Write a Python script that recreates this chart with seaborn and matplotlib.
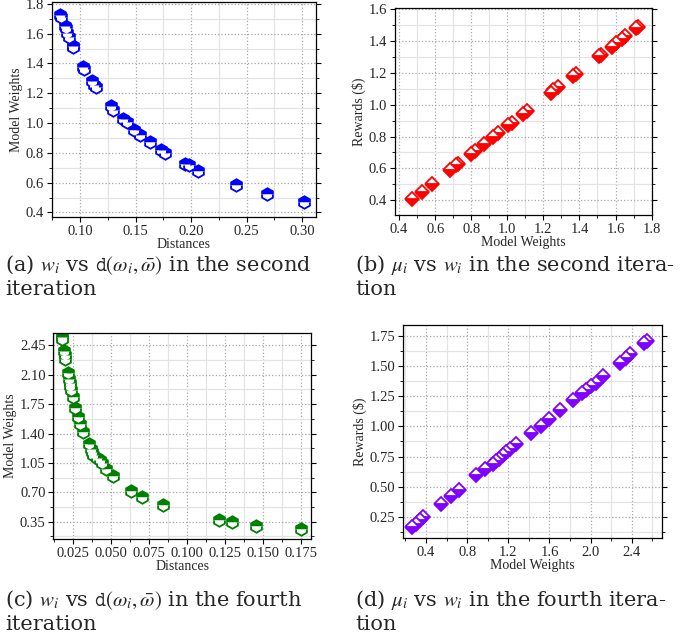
import matplotlib
matplotlib.use("Agg")
import matplotlib.pyplot as plt
import seaborn as sns
import pandas as pd
from matplotlib.ticker import MultipleLocator, AutoMinorLocator, FormatStrFormatter

# second iteration
weights_2 = [1.726, 1.715, 1.652, 1.637, 1.603, 1.58, 1.518, 1.51, 1.379, 1.364,
             1.283, 1.256, 1.24, 1.111, 1.089, 1.026, 1.004, 0.95, 0.921, 0.872,
             0.82, 0.798, 0.726, 0.715, 0.681, 0.585, 0.525, 0.469]
distances_2 = [0.0821, 0.0826, 0.0866, 0.0872, 0.0887, 0.0902, 0.0935, 0.0941, 0.103, 0.104,
               0.1107, 0.1125, 0.1143, 0.128, 0.130, 0.139, 0.142, 0.149, 0.154, 0.163,
               0.173, 0.177, 0.195, 0.198, 0.2065, 0.2405, 0.268, 0.302]
rewards_2 = [1.49, 1.48, 1.43, 1.415, 1.385, 1.365, 1.31, 1.305, 1.19, 1.18,
             1.11, 1.09, 1.075, 0.96, 0.94, 0.885, 0.87, 0.82, 0.795, 0.755,
             0.71, 0.69, 0.63, 0.62, 0.59, 0.505, 0.455, 0.405]

# fourth iteration
weights_4 = [2.55, 2.52, 2.38, 2.34, 2.285, 2.12, 2.05, 2.00, 1.96, 1.92,
             1.83, 1.70, 1.60, 1.515, 1.42, 1.275, 1.22, 1.18, 1.15, 1.11,
             1.08, 1.05, 0.975, 0.89, 0.72, 0.645, 0.545, 0.37, 0.345, 0.305, 0.265]
distances_4 = [0.0174, 0.0178, 0.0189, 0.0193, 0.0197, 0.0213, 0.0222, 0.0227, 0.0230, 0.0235,
               0.0246, 0.0263, 0.0283, 0.0296, 0.0316, 0.0351, 0.0365, 0.0373, 0.0382, 0.0408,
               0.0426, 0.0437, 0.0465, 0.051, 0.0628, 0.0703, 0.0843, 0.121, 0.1297, 0.1454, 0.175]
rewards_4 = [1.708, 1.69, 1.598, 1.57, 1.526, 1.415, 1.36, 1.332, 1.305, 1.277,
             1.222, 1.139, 1.062, 1.004, 0.946, 0.852, 0.816, 0.789, 0.761, 0.733,
             0.714, 0.686, 0.645, 0.595, 0.476, 0.421, 0.36, 0.25, 0.226, 0.193, 0.165]

captions = [
    r"(a) $w_i$ vs $\mathtt{d}(\omega_i, \bar{\omega})$ in the second" + "\niteration",
    r"(b) $\mu_i$ vs $w_i$ in the second itera-" + "\ntion",
    r"(c) $w_i$ vs $\mathtt{d}(\omega_i, \bar{\omega})$ in the fourth" + "\niteration",
    r"(d) $\mu_i$ vs $w_i$ in the fourth itera-" + "\ntion",
]

sns.set_theme(style="ticks")
plt.rcParams["font.family"] = ["Liberation Serif", "DejaVu Serif"]
plt.rcParams["mathtext.fontset"] = "stix"

df2 = pd.DataFrame({"w": weights_2, "d": distances_2, "r": rewards_2})
df4 = pd.DataFrame({"w": weights_4, "d": distances_4, "r": rewards_4})

fig = plt.figure(figsize=(6.83, 6.35), dpi=100)

panels = [
    # rect, data, x, y, color, marker, fill, xlabel, ylabel, xlim, ylim, xmaj, ymaj, xfmt, yfmt
    ([0.0757, 0.658, 0.387, 0.339], df2, "d", "w", "#0000ff", "h", "top",
     "Distances", "Model Weights", (0.0745, 0.3126), (0.368, 1.813), 0.05, 0.2, "%.2f", "%.1f"),
    ([0.578, 0.661, 0.376, 0.326], df2, "w", "r", "#ff0000", "D", "bottom",
     "Model Weights", "Rewards ($)", (0.376, 1.8), (0.306, 1.605), 0.2, 0.2, "%.1f", "%.1f"),
    ([0.078, 0.151, 0.378, 0.325], df4, "d", "w", "#008000", "h", "top",
     "Distances", "Model Weights", (0.0118, 0.182), (0.143, 2.60), 0.025, 0.35, "%.3f", "%.2f"),
    ([0.590, 0.152, 0.379, 0.336], df4, "w", "r", "#8000ff", "D", "bottom",
     "Model Weights", "Rewards ($)", (0.176, 2.693), (0.071, 1.839), 0.4, 0.25, "%.1f", "%.2f"),
]

for rect, df, xc, yc, col, mk, fs, xl, yl, xlim, ylim, xm, ym, xf, yf in panels:
    ax = fig.add_axes(rect)
    sns.lineplot(data=df, x=xc, y=yc, ax=ax, estimator=None, sort=False,
                 linestyle="", marker=mk, markersize=9 if mk == "h" else 7.5,
                 fillstyle=fs, color=col, markerfacecoloralt="white",
                 markeredgecolor=col, markeredgewidth=1.3)
    ax.set_xlim(*xlim)
    ax.set_ylim(*ylim)
    ax.xaxis.set_major_locator(MultipleLocator(xm))
    ax.yaxis.set_major_locator(MultipleLocator(ym))
    ax.xaxis.set_minor_locator(AutoMinorLocator(2))
    ax.yaxis.set_minor_locator(AutoMinorLocator(2))
    ax.xaxis.set_major_formatter(FormatStrFormatter(xf))
    ax.yaxis.set_major_formatter(FormatStrFormatter(yf))
    ax.grid(True, which="major", color="#a8a8a8", linestyle=":", linewidth=0.9)
    ax.grid(True, which="minor", color="#e4e4e4", linestyle="-", linewidth=0.9)
    ax.set_axisbelow(True)
    ax.tick_params(which="both", direction="out", top=False, right=True,
                   labelsize=10.5, color="black", pad=2)
    ax.tick_params(which="major", length=3.5, width=0.8)
    ax.tick_params(which="minor", length=2, width=0.6)
    for s in ax.spines.values():
        s.set_color("black")
        s.set_linewidth(0.9)
    ax.set_xlabel(xl, fontsize=10, labelpad=0)
    ax.set_ylabel(yl, fontsize=10, labelpad=2)

# sub-figure captions
cap_pos = [(0.007, 0.565), (0.52, 0.565), (0.007, 0.038), (0.52, 0.038)]
for (cx, cy), txt in zip(cap_pos, captions):
    fig.text(cx, cy, txt, fontsize=15, family="DejaVu Serif",
             va="center", ha="left", linespacing=1.2)

fig.savefig("out.png", dpi=100)
